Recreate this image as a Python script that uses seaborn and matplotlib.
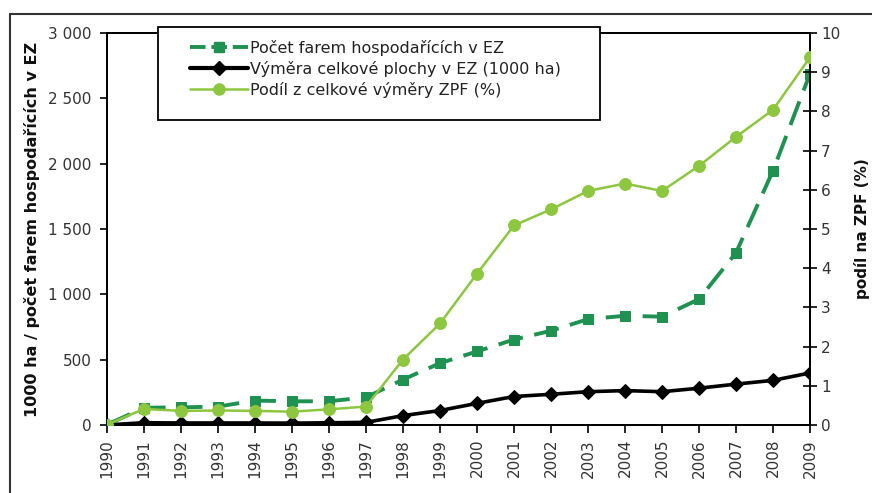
import matplotlib
matplotlib.use("Agg")
import matplotlib.pyplot as plt
import matplotlib.ticker as mticker
from matplotlib.lines import Line2D
from matplotlib.patches import Rectangle
import seaborn as sns
import pandas as pd

years = list(range(1990, 2010))
farms = [3, 132, 135, 141, 187, 181, 182, 211, 348, 473, 563, 654, 721, 810, 836, 829, 963, 1318, 1946, 2689]
area = [0.5, 17.5, 15.4, 15.7, 15.4, 14.4, 17.0, 20.2, 71.6, 110.8, 165.7, 218.1, 235.1, 254.9, 263.3, 254.9, 281.5, 312.9, 341.6, 398.4]
share = [0.01, 0.41, 0.36, 0.37, 0.36, 0.34, 0.40, 0.47, 1.67, 2.59, 3.86, 5.09, 5.50, 5.97, 6.16, 5.97, 6.61, 7.35, 8.04, 9.38]

labels = ["Počet farem hospodařících v EZ",
          "Výměra celkové plochy v EZ (1000 ha)",
          "Podíl z celkové výměry ZPF (%)"]
ylabel_left = "1000 ha / počet farem hospodařících v EZ"
ylabel_right = "podíl na ZPF (%)"

df = pd.DataFrame({"year": years, "farms": farms, "area": area, "share": share})

sns.set_style("white")
plt.rcParams["font.family"] = ["DejaVu Sans"]

c_farm = "#1f9150"
c_area = "#000000"
c_share = "#8dc63f"
c_text = "#333333"

fig = plt.figure(figsize=(8.72, 4.93), dpi=100)
ax = fig.add_axes([107/872, 1-425/493, (810-107)/872, (425-33)/493])
ax2 = ax.twinx()

sns.lineplot(data=df, x="year", y="farms", ax=ax, color=c_farm, linewidth=2.8,
             marker="s", markersize=6.5, markeredgecolor=c_farm, zorder=3)
ax.lines[-1].set_dashes([6.5, 3])
sns.lineplot(data=df, x="year", y="area", ax=ax, color=c_area, linewidth=2.6,
             marker="D", markersize=7, markeredgecolor=c_area, zorder=4)
sns.lineplot(data=df, x="year", y="share", ax=ax2, color=c_share, linewidth=1.8,
             marker="o", markersize=8.5, markeredgecolor=c_share, zorder=3)

ax.set_xlim(1990, 2009)
ax.set_ylim(0, 3000)
ax2.set_ylim(0, 10)
ax.set_xticks(years)
ax.set_xticklabels([str(y) for y in years], rotation=90, fontsize=11, color=c_text)
ax.yaxis.set_major_locator(mticker.MultipleLocator(500))
ax.yaxis.set_major_formatter(mticker.FuncFormatter(lambda v, p: f"{int(v):,}".replace(",", " ")))
ax2.yaxis.set_major_locator(mticker.MultipleLocator(1))
ax.tick_params(axis="y", labelsize=11, labelcolor=c_text, direction="out", length=5, width=1.2, color="black", left=True, pad=6)
ax.tick_params(axis="x", direction="out", length=6, width=1.2, color="black", bottom=True, pad=4)
ax2.tick_params(axis="y", labelsize=11, labelcolor=c_text, direction="inout", length=10, width=1.2, color="black", right=True, pad=3)

ax.set_xlabel("")
ax.set_ylabel(ylabel_left, fontsize=11.5, fontweight="bold", labelpad=6, color="#111111")
ax2.set_ylabel(ylabel_right, fontsize=11, fontweight="bold", labelpad=10, color="#111111")

for a in (ax, ax2):
    for s in a.spines.values():
        s.set_color("black")
        s.set_linewidth(1.3)
    a.grid(False)

# legend box
fig.add_artist(Rectangle((158/872, 1-120/493), (600-158)/872, (120-27)/493,
                         transform=fig.transFigure, facecolor="white", edgecolor="black",
                         lw=1.3, zorder=5))
handles = [
    Line2D([0], [0], color=c_farm, lw=2.8, marker="s", markersize=7, dashes=[4, 1.5]),
    Line2D([0], [0], color=c_area, lw=3.0, marker="D", markersize=7),
    Line2D([0], [0], color=c_share, lw=1.8, marker="o", markersize=8),
]
leg = fig.legend(handles, labels, loc="upper left", bbox_to_anchor=(190/872, 1-40/493),
                 bbox_transform=fig.transFigure, fontsize=11.5, handlelength=3.6,
                 frameon=False, borderpad=0, labelspacing=0.3, handletextpad=0.15,
                 borderaxespad=0)
leg.set_zorder(10)
for t in leg.get_texts():
    t.set_color("#222222")

# outer frame
fig.add_artist(Line2D([10/872, 10/872], [0, 1-14/493], transform=fig.transFigure, color="#333333", lw=1.5))
fig.add_artist(Line2D([10/872, 1], [1-14/493, 1-14/493], transform=fig.transFigure, color="#333333", lw=1.5))

fig.savefig("out.png", dpi=100, facecolor="white")
